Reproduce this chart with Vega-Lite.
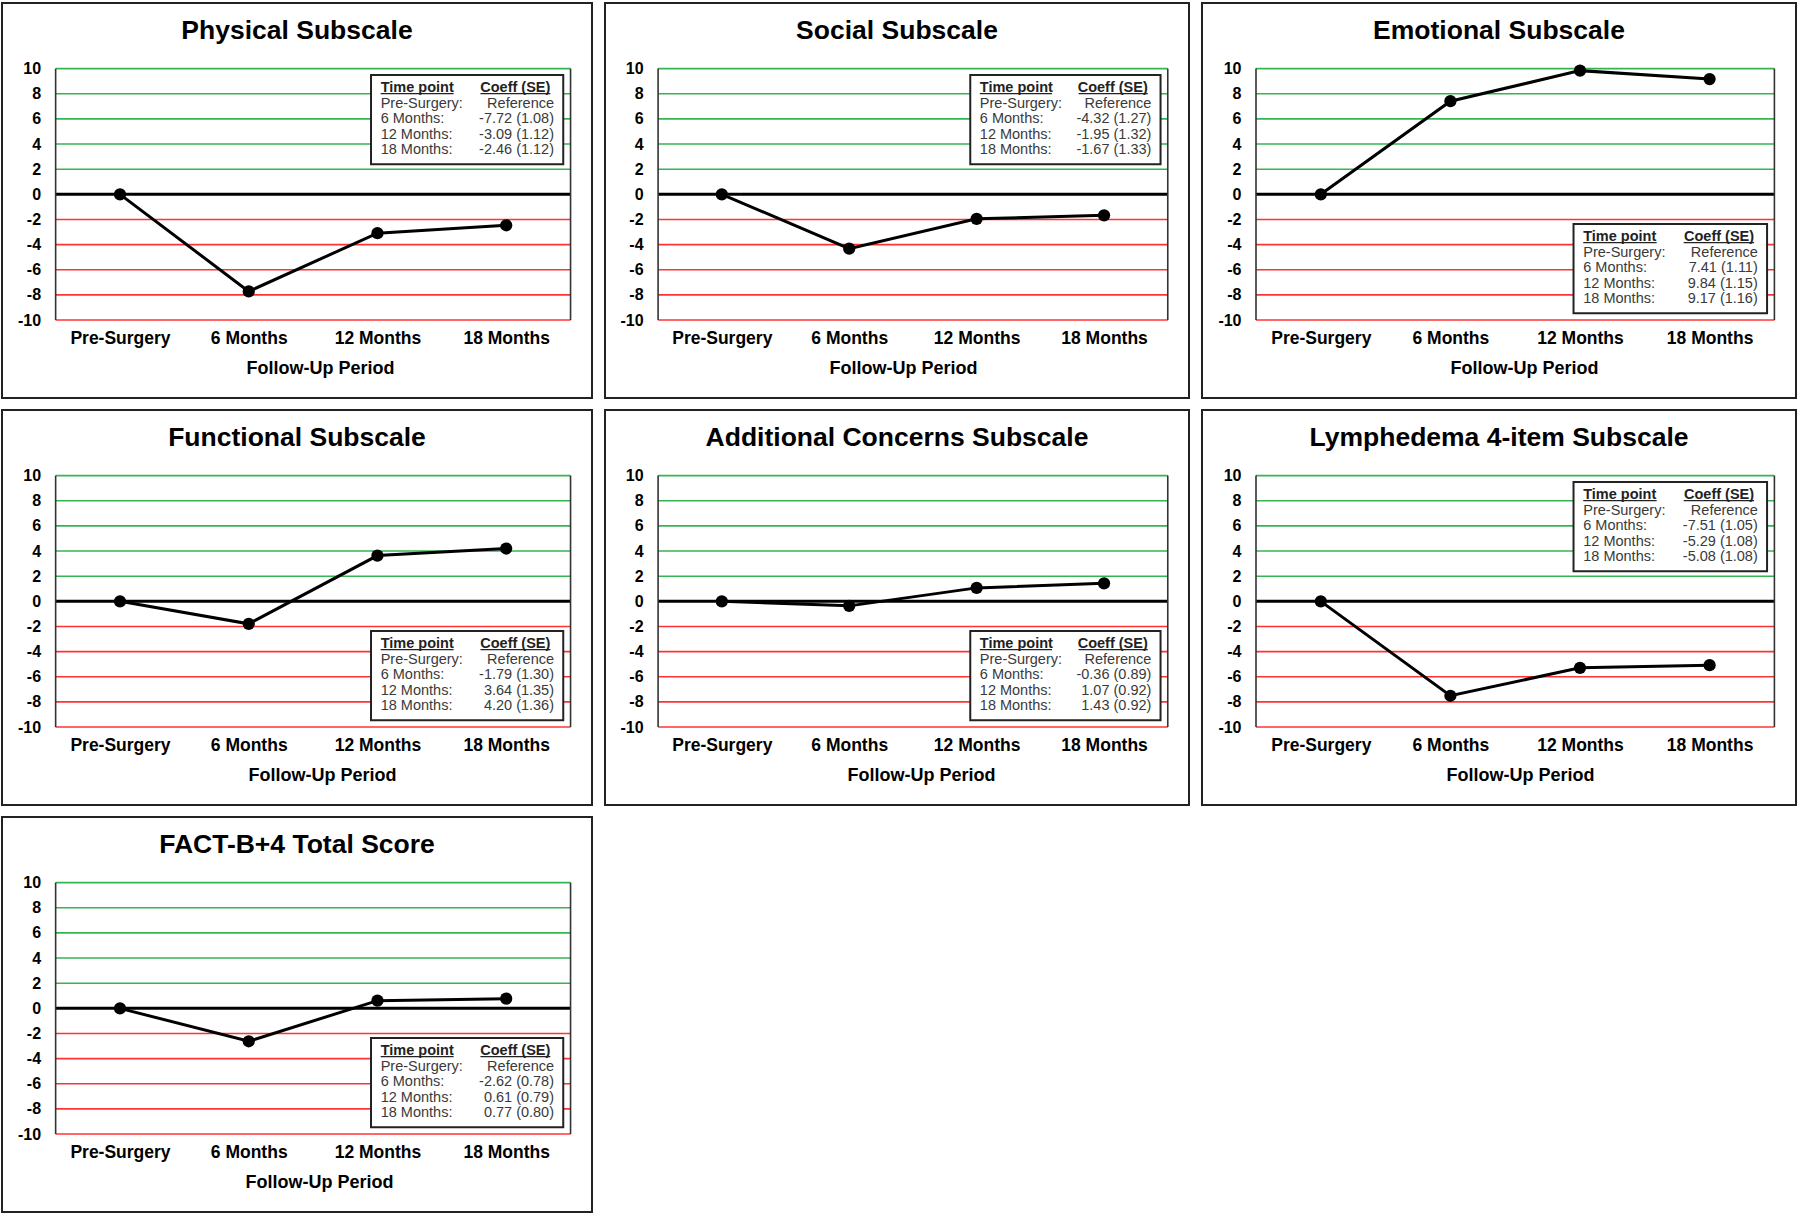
{
  "$schema": "https://vega.github.io/schema/vega-lite/v6.json",
  "padding": {"left": 1, "top": 2, "right": 0, "bottom": 0},
  "background": "#ffffff",
  "config": {
    "view": {"stroke": "#222222", "strokeWidth": 2},
    "font": "Liberation Sans",
    "axis": {"labelFont": "Liberation Sans", "titleFont": "Liberation Sans", "labelColor": "#000000", "titleColor": "#000000", "labelFlush": false, "labelOverlap": false, "labelBound": false, "domain": false, "ticks": false, "grid": false},
    "axisY": {"labelOverlap": false, "tickCount": 30, "labelExpr": "'' + datum.value"},
    "axisX": {"labelOverlap": false, "tickCount": 30},
    "title": {"font": "Liberation Sans", "fontSize": 26.5, "fontWeight": "bold", "color": "#000000", "frame": "group", "anchor": "middle", "offset": -41, "baseline": "alphabetic"}
  },
  "datasets": {
    "scores": [
      {"panel": "Physical Subscale", "month": 0, "coef": 0},
      {"panel": "Physical Subscale", "month": 6, "coef": -7.72},
      {"panel": "Physical Subscale", "month": 12, "coef": -3.09},
      {"panel": "Physical Subscale", "month": 18, "coef": -2.46},
      {"panel": "Social Subscale", "month": 0, "coef": 0},
      {"panel": "Social Subscale", "month": 6, "coef": -4.32},
      {"panel": "Social Subscale", "month": 12, "coef": -1.95},
      {"panel": "Social Subscale", "month": 18, "coef": -1.67},
      {"panel": "Emotional Subscale", "month": 0, "coef": 0},
      {"panel": "Emotional Subscale", "month": 6, "coef": 7.41},
      {"panel": "Emotional Subscale", "month": 12, "coef": 9.84},
      {"panel": "Emotional Subscale", "month": 18, "coef": 9.17},
      {"panel": "Functional Subscale", "month": 0, "coef": 0},
      {"panel": "Functional Subscale", "month": 6, "coef": -1.79},
      {"panel": "Functional Subscale", "month": 12, "coef": 3.64},
      {"panel": "Functional Subscale", "month": 18, "coef": 4.20},
      {"panel": "Additional Concerns Subscale", "month": 0, "coef": 0},
      {"panel": "Additional Concerns Subscale", "month": 6, "coef": -0.36},
      {"panel": "Additional Concerns Subscale", "month": 12, "coef": 1.07},
      {"panel": "Additional Concerns Subscale", "month": 18, "coef": 1.43},
      {"panel": "Lymphedema 4-item Subscale", "month": 0, "coef": 0},
      {"panel": "Lymphedema 4-item Subscale", "month": 6, "coef": -7.51},
      {"panel": "Lymphedema 4-item Subscale", "month": 12, "coef": -5.29},
      {"panel": "Lymphedema 4-item Subscale", "month": 18, "coef": -5.08},
      {"panel": "FACT-B+4 Total Score", "month": 0, "coef": 0},
      {"panel": "FACT-B+4 Total Score", "month": 6, "coef": -2.62},
      {"panel": "FACT-B+4 Total Score", "month": 12, "coef": 0.61},
      {"panel": "FACT-B+4 Total Score", "month": 18, "coef": 0.77}
    ],
    "tables": [
      {"panel": "Physical Subscale", "times": "Pre-Surgery:\n6 Months:\n12 Months:\n18 Months:", "coefs": "Reference\n-7.72 (1.08)\n-3.09 (1.12)\n-2.46 (1.12)"},
      {"panel": "Social Subscale", "times": "Pre-Surgery:\n6 Months:\n12 Months:\n18 Months:", "coefs": "Reference\n-4.32 (1.27)\n-1.95 (1.32)\n-1.67 (1.33)"},
      {"panel": "Emotional Subscale", "times": "Pre-Surgery:\n6 Months:\n12 Months:\n18 Months:", "coefs": "Reference\n7.41 (1.11)\n9.84 (1.15)\n9.17 (1.16)"},
      {"panel": "Functional Subscale", "times": "Pre-Surgery:\n6 Months:\n12 Months:\n18 Months:", "coefs": "Reference\n-1.79 (1.30)\n3.64 (1.35)\n4.20 (1.36)"},
      {"panel": "Additional Concerns Subscale", "times": "Pre-Surgery:\n6 Months:\n12 Months:\n18 Months:", "coefs": "Reference\n-0.36 (0.89)\n1.07 (0.92)\n1.43 (0.92)"},
      {"panel": "Lymphedema 4-item Subscale", "times": "Pre-Surgery:\n6 Months:\n12 Months:\n18 Months:", "coefs": "Reference\n-7.51 (1.05)\n-5.29 (1.08)\n-5.08 (1.08)"},
      {"panel": "FACT-B+4 Total Score", "times": "Pre-Surgery:\n6 Months:\n12 Months:\n18 Months:", "coefs": "Reference\n-2.62 (0.78)\n0.61 (0.79)\n0.77 (0.80)"}
    ],
    "grid": [
      {"level": -10}, {"level": -8}, {"level": -6}, {"level": -4}, {"level": -2},
      {"level": 2}, {"level": 4}, {"level": 6}, {"level": 8}, {"level": 10}
    ]
  },
  "vconcat": [
    {
      "hconcat": [
        {
          "width": 590, "height": 395,
          "title": {"text": "Physical Subscale"},
          "data": {"name": "tables"},
          "transform": [{"filter": "datum.panel == 'Physical Subscale'"}],
          "layer": [
            {"data": {"name": "grid"}, "mark": {"type": "rule", "strokeWidth": 1.6}, "encoding": {"y": {"field": "level", "type": "quantitative"}, "x": {"datum": -3}, "x2": {"datum": 21}, "color": {"condition": {"test": "datum.level > 0", "value": "#35b552"}, "value": "#ff3333"}}},
            {"mark": {"type": "rule", "strokeWidth": 3, "color": "#000000"}, "encoding": {"y": {"datum": 0}, "x": {"datum": -3}, "x2": {"datum": 21}}},
            {"mark": {"type": "rule", "strokeWidth": 1.6, "color": "#333333"}, "encoding": {"x": {"datum": -3}, "y": {"datum": -10}, "y2": {"datum": 10}}},
            {"mark": {"type": "rule", "strokeWidth": 1.6, "color": "#333333"}, "encoding": {"x": {"datum": 21}, "y": {"datum": -10}, "y2": {"datum": 10}}},
            {"data": {"name": "scores"}, "transform": [{"filter": "datum.panel == 'Physical Subscale'"}], "mark": {"type": "line", "color": "#000000", "strokeWidth": 3},
              "encoding": {
                "x": {"field": "month", "type": "quantitative", "scale": {"domain": [-5.5, 22], "nice": false, "zero": false}, "axis": {"values": [0, 6, 12, 18], "tickCount": 30, "labelExpr": "datum.value == 0 ? 'Pre-Surgery' : datum.value + ' Months'", "orient": "bottom", "offset": -77.9, "labelPadding": 9.5, "labelOverlap": false, "labelFontSize": 17.5, "labelFontWeight": "bold", "labelAngle": 0, "title": "Follow-Up Period", "titleFontSize": 18, "titleFontWeight": "bold", "titlePadding": 12, "titleX": 318}},
                "y": {"field": "coef", "type": "quantitative", "scale": {"domain": [-16.2, 15.22], "nice": false, "zero": false}, "axis": {"values": [-10, -8, -6, -4, -2, 0, 2, 4, 6, 8, 10], "tickCount": 30, "labelExpr": "'' + datum.value", "orient": "left", "offset": -53.6, "labelPadding": 15, "labelOverlap": false, "labelFontSize": 16, "labelFontWeight": "bold", "title": null}}
              }},
            {"data": {"name": "scores"}, "transform": [{"filter": "datum.panel == 'Physical Subscale'"}], "mark": {"type": "circle", "size": 150, "color": "#000000", "opacity": 1}, "encoding": {"x": {"field": "month", "type": "quantitative"}, "y": {"field": "coef", "type": "quantitative"}}},
            {"mark": {"type": "rect", "fill": "#ffffff", "stroke": "#222222", "strokeWidth": 2}, "encoding": {"x": {"datum": 11.7}, "x2": {"datum": 20.66}, "y": {"datum": 9.5}, "y2": {"datum": 2.4}}},
            {"mark": {"type": "text", "fontSize": 14.5, "fontWeight": "bold", "align": "left", "baseline": "alphabetic", "color": "#222222"}, "encoding": {"text": {"value": "Time point"}, "x": {"datum": 12.15}, "y": {"datum": 8.17}}},
            {"mark": {"type": "text", "fontSize": 14.5, "fontWeight": "bold", "align": "right", "baseline": "alphabetic", "color": "#222222"}, "encoding": {"text": {"value": "Coeff (SE)"}, "x": {"datum": 20.06}, "y": {"datum": 8.17}}},
            {"mark": {"type": "rule", "strokeWidth": 1.2, "color": "#222222"}, "encoding": {"x": {"datum": 12.15}, "x2": {"datum": 15.55}, "y": {"datum": 8.01}}},
            {"mark": {"type": "rule", "strokeWidth": 1.2, "color": "#222222"}, "encoding": {"x": {"datum": 16.8}, "x2": {"datum": 20.06}, "y": {"datum": 8.01}}},
            {"mark": {"type": "text", "fontSize": 14.5, "align": "left", "baseline": "alphabetic", "lineBreak": "\n", "lineHeight": 15.5, "color": "#3a3a3a"}, "encoding": {"text": {"field": "times"}, "x": {"datum": 12.15}, "y": {"datum": 6.88}}},
            {"mark": {"type": "text", "fontSize": 14.5, "align": "right", "baseline": "alphabetic", "lineBreak": "\n", "lineHeight": 15.5, "color": "#3a3a3a"}, "encoding": {"text": {"field": "coefs"}, "x": {"datum": 20.23}, "y": {"datum": 6.88}}}
          ]
        },
        {
          "width": 584, "height": 395,
          "title": {"text": "Social Subscale"},
          "data": {"name": "tables"},
          "transform": [{"filter": "datum.panel == 'Social Subscale'"}],
          "layer": [
            {"data": {"name": "grid"}, "mark": {"type": "rule", "strokeWidth": 1.6}, "encoding": {"y": {"field": "level", "type": "quantitative"}, "x": {"datum": -3}, "x2": {"datum": 21}, "color": {"condition": {"test": "datum.level > 0", "value": "#35b552"}, "value": "#ff3333"}}},
            {"mark": {"type": "rule", "strokeWidth": 3, "color": "#000000"}, "encoding": {"y": {"datum": 0}, "x": {"datum": -3}, "x2": {"datum": 21}}},
            {"mark": {"type": "rule", "strokeWidth": 1.6, "color": "#333333"}, "encoding": {"x": {"datum": -3}, "y": {"datum": -10}, "y2": {"datum": 10}}},
            {"mark": {"type": "rule", "strokeWidth": 1.6, "color": "#333333"}, "encoding": {"x": {"datum": 21}, "y": {"datum": -10}, "y2": {"datum": 10}}},
            {"data": {"name": "scores"}, "transform": [{"filter": "datum.panel == 'Social Subscale'"}], "mark": {"type": "line", "color": "#000000", "strokeWidth": 3},
              "encoding": {
                "x": {"field": "month", "type": "quantitative", "scale": {"domain": [-5.5, 22], "nice": false, "zero": false}, "axis": {"values": [0, 6, 12, 18], "tickCount": 30, "labelExpr": "datum.value == 0 ? 'Pre-Surgery' : datum.value + ' Months'", "orient": "bottom", "offset": -77.9, "labelPadding": 9.5, "labelOverlap": false, "labelFontSize": 17.5, "labelFontWeight": "bold", "labelAngle": 0, "title": "Follow-Up Period", "titleFontSize": 18, "titleFontWeight": "bold", "titlePadding": 12, "titleX": 298}},
                "y": {"field": "coef", "type": "quantitative", "scale": {"domain": [-16.2, 15.22], "nice": false, "zero": false}, "axis": {"values": [-10, -8, -6, -4, -2, 0, 2, 4, 6, 8, 10], "tickCount": 30, "labelExpr": "'' + datum.value", "orient": "left", "offset": -53.1, "labelPadding": 15, "labelOverlap": false, "labelFontSize": 16, "labelFontWeight": "bold", "title": null}}
              }},
            {"data": {"name": "scores"}, "transform": [{"filter": "datum.panel == 'Social Subscale'"}], "mark": {"type": "circle", "size": 150, "color": "#000000", "opacity": 1}, "encoding": {"x": {"field": "month", "type": "quantitative"}, "y": {"field": "coef", "type": "quantitative"}}},
            {"mark": {"type": "rect", "fill": "#ffffff", "stroke": "#222222", "strokeWidth": 2}, "encoding": {"x": {"datum": 11.7}, "x2": {"datum": 20.66}, "y": {"datum": 9.5}, "y2": {"datum": 2.4}}},
            {"mark": {"type": "text", "fontSize": 14.5, "fontWeight": "bold", "align": "left", "baseline": "alphabetic", "color": "#222222"}, "encoding": {"text": {"value": "Time point"}, "x": {"datum": 12.15}, "y": {"datum": 8.17}}},
            {"mark": {"type": "text", "fontSize": 14.5, "fontWeight": "bold", "align": "right", "baseline": "alphabetic", "color": "#222222"}, "encoding": {"text": {"value": "Coeff (SE)"}, "x": {"datum": 20.06}, "y": {"datum": 8.17}}},
            {"mark": {"type": "rule", "strokeWidth": 1.2, "color": "#222222"}, "encoding": {"x": {"datum": 12.15}, "x2": {"datum": 15.55}, "y": {"datum": 8.01}}},
            {"mark": {"type": "rule", "strokeWidth": 1.2, "color": "#222222"}, "encoding": {"x": {"datum": 16.8}, "x2": {"datum": 20.06}, "y": {"datum": 8.01}}},
            {"mark": {"type": "text", "fontSize": 14.5, "align": "left", "baseline": "alphabetic", "lineBreak": "\n", "lineHeight": 15.5, "color": "#3a3a3a"}, "encoding": {"text": {"field": "times"}, "x": {"datum": 12.15}, "y": {"datum": 6.88}}},
            {"mark": {"type": "text", "fontSize": 14.5, "align": "right", "baseline": "alphabetic", "lineBreak": "\n", "lineHeight": 15.5, "color": "#3a3a3a"}, "encoding": {"text": {"field": "coefs"}, "x": {"datum": 20.23}, "y": {"datum": 6.88}}}
          ]
        },
        {
          "width": 594, "height": 395,
          "title": {"text": "Emotional Subscale"},
          "data": {"name": "tables"},
          "transform": [{"filter": "datum.panel == 'Emotional Subscale'"}],
          "layer": [
            {"data": {"name": "grid"}, "mark": {"type": "rule", "strokeWidth": 1.6}, "encoding": {"y": {"field": "level", "type": "quantitative"}, "x": {"datum": -3}, "x2": {"datum": 21}, "color": {"condition": {"test": "datum.level > 0", "value": "#35b552"}, "value": "#ff3333"}}},
            {"mark": {"type": "rule", "strokeWidth": 3, "color": "#000000"}, "encoding": {"y": {"datum": 0}, "x": {"datum": -3}, "x2": {"datum": 21}}},
            {"mark": {"type": "rule", "strokeWidth": 1.6, "color": "#333333"}, "encoding": {"x": {"datum": -3}, "y": {"datum": -10}, "y2": {"datum": 10}}},
            {"mark": {"type": "rule", "strokeWidth": 1.6, "color": "#333333"}, "encoding": {"x": {"datum": 21}, "y": {"datum": -10}, "y2": {"datum": 10}}},
            {"data": {"name": "scores"}, "transform": [{"filter": "datum.panel == 'Emotional Subscale'"}], "mark": {"type": "line", "color": "#000000", "strokeWidth": 3},
              "encoding": {
                "x": {"field": "month", "type": "quantitative", "scale": {"domain": [-5.5, 22], "nice": false, "zero": false}, "axis": {"values": [0, 6, 12, 18], "tickCount": 30, "labelExpr": "datum.value == 0 ? 'Pre-Surgery' : datum.value + ' Months'", "orient": "bottom", "offset": -77.9, "labelPadding": 9.5, "labelOverlap": false, "labelFontSize": 17.5, "labelFontWeight": "bold", "labelAngle": 0, "title": "Follow-Up Period", "titleFontSize": 18, "titleFontWeight": "bold", "titlePadding": 12, "titleX": 322}},
                "y": {"field": "coef", "type": "quantitative", "scale": {"domain": [-16.2, 15.22], "nice": false, "zero": false}, "axis": {"values": [-10, -8, -6, -4, -2, 0, 2, 4, 6, 8, 10], "tickCount": 30, "labelExpr": "'' + datum.value", "orient": "left", "offset": -54, "labelPadding": 15, "labelOverlap": false, "labelFontSize": 16, "labelFontWeight": "bold", "title": null}}
              }},
            {"data": {"name": "scores"}, "transform": [{"filter": "datum.panel == 'Emotional Subscale'"}], "mark": {"type": "circle", "size": 150, "color": "#000000", "opacity": 1}, "encoding": {"x": {"field": "month", "type": "quantitative"}, "y": {"field": "coef", "type": "quantitative"}}},
            {"mark": {"type": "rect", "fill": "#ffffff", "stroke": "#222222", "strokeWidth": 2}, "encoding": {"x": {"datum": 11.7}, "x2": {"datum": 20.66}, "y": {"datum": -2.35}, "y2": {"datum": -9.45}}},
            {"mark": {"type": "text", "fontSize": 14.5, "fontWeight": "bold", "align": "left", "baseline": "alphabetic", "color": "#222222"}, "encoding": {"text": {"value": "Time point"}, "x": {"datum": 12.15}, "y": {"datum": -3.68}}},
            {"mark": {"type": "text", "fontSize": 14.5, "fontWeight": "bold", "align": "right", "baseline": "alphabetic", "color": "#222222"}, "encoding": {"text": {"value": "Coeff (SE)"}, "x": {"datum": 20.06}, "y": {"datum": -3.68}}},
            {"mark": {"type": "rule", "strokeWidth": 1.2, "color": "#222222"}, "encoding": {"x": {"datum": 12.15}, "x2": {"datum": 15.55}, "y": {"datum": -3.84}}},
            {"mark": {"type": "rule", "strokeWidth": 1.2, "color": "#222222"}, "encoding": {"x": {"datum": 16.8}, "x2": {"datum": 20.06}, "y": {"datum": -3.84}}},
            {"mark": {"type": "text", "fontSize": 14.5, "align": "left", "baseline": "alphabetic", "lineBreak": "\n", "lineHeight": 15.5, "color": "#3a3a3a"}, "encoding": {"text": {"field": "times"}, "x": {"datum": 12.15}, "y": {"datum": -4.97}}},
            {"mark": {"type": "text", "fontSize": 14.5, "align": "right", "baseline": "alphabetic", "lineBreak": "\n", "lineHeight": 15.5, "color": "#3a3a3a"}, "encoding": {"text": {"field": "coefs"}, "x": {"datum": 20.23}, "y": {"datum": -4.97}}}
          ]
        }
      ],
      "spacing": 11
    },
    {
      "hconcat": [
        {
          "width": 590, "height": 395,
          "title": {"text": "Functional Subscale"},
          "data": {"name": "tables"},
          "transform": [{"filter": "datum.panel == 'Functional Subscale'"}],
          "layer": [
            {"data": {"name": "grid"}, "mark": {"type": "rule", "strokeWidth": 1.6}, "encoding": {"y": {"field": "level", "type": "quantitative"}, "x": {"datum": -3}, "x2": {"datum": 21}, "color": {"condition": {"test": "datum.level > 0", "value": "#35b552"}, "value": "#ff3333"}}},
            {"mark": {"type": "rule", "strokeWidth": 3, "color": "#000000"}, "encoding": {"y": {"datum": 0}, "x": {"datum": -3}, "x2": {"datum": 21}}},
            {"mark": {"type": "rule", "strokeWidth": 1.6, "color": "#333333"}, "encoding": {"x": {"datum": -3}, "y": {"datum": -10}, "y2": {"datum": 10}}},
            {"mark": {"type": "rule", "strokeWidth": 1.6, "color": "#333333"}, "encoding": {"x": {"datum": 21}, "y": {"datum": -10}, "y2": {"datum": 10}}},
            {"data": {"name": "scores"}, "transform": [{"filter": "datum.panel == 'Functional Subscale'"}], "mark": {"type": "line", "color": "#000000", "strokeWidth": 3},
              "encoding": {
                "x": {"field": "month", "type": "quantitative", "scale": {"domain": [-5.5, 22], "nice": false, "zero": false}, "axis": {"values": [0, 6, 12, 18], "tickCount": 30, "labelExpr": "datum.value == 0 ? 'Pre-Surgery' : datum.value + ' Months'", "orient": "bottom", "offset": -77.9, "labelPadding": 9.5, "labelOverlap": false, "labelFontSize": 17.5, "labelFontWeight": "bold", "labelAngle": 0, "title": "Follow-Up Period", "titleFontSize": 18, "titleFontWeight": "bold", "titlePadding": 12, "titleX": 320}},
                "y": {"field": "coef", "type": "quantitative", "scale": {"domain": [-16.2, 15.22], "nice": false, "zero": false}, "axis": {"values": [-10, -8, -6, -4, -2, 0, 2, 4, 6, 8, 10], "tickCount": 30, "labelExpr": "'' + datum.value", "orient": "left", "offset": -53.6, "labelPadding": 15, "labelOverlap": false, "labelFontSize": 16, "labelFontWeight": "bold", "title": null}}
              }},
            {"data": {"name": "scores"}, "transform": [{"filter": "datum.panel == 'Functional Subscale'"}], "mark": {"type": "circle", "size": 150, "color": "#000000", "opacity": 1}, "encoding": {"x": {"field": "month", "type": "quantitative"}, "y": {"field": "coef", "type": "quantitative"}}},
            {"mark": {"type": "rect", "fill": "#ffffff", "stroke": "#222222", "strokeWidth": 2}, "encoding": {"x": {"datum": 11.7}, "x2": {"datum": 20.66}, "y": {"datum": -2.35}, "y2": {"datum": -9.45}}},
            {"mark": {"type": "text", "fontSize": 14.5, "fontWeight": "bold", "align": "left", "baseline": "alphabetic", "color": "#222222"}, "encoding": {"text": {"value": "Time point"}, "x": {"datum": 12.15}, "y": {"datum": -3.68}}},
            {"mark": {"type": "text", "fontSize": 14.5, "fontWeight": "bold", "align": "right", "baseline": "alphabetic", "color": "#222222"}, "encoding": {"text": {"value": "Coeff (SE)"}, "x": {"datum": 20.06}, "y": {"datum": -3.68}}},
            {"mark": {"type": "rule", "strokeWidth": 1.2, "color": "#222222"}, "encoding": {"x": {"datum": 12.15}, "x2": {"datum": 15.55}, "y": {"datum": -3.84}}},
            {"mark": {"type": "rule", "strokeWidth": 1.2, "color": "#222222"}, "encoding": {"x": {"datum": 16.8}, "x2": {"datum": 20.06}, "y": {"datum": -3.84}}},
            {"mark": {"type": "text", "fontSize": 14.5, "align": "left", "baseline": "alphabetic", "lineBreak": "\n", "lineHeight": 15.5, "color": "#3a3a3a"}, "encoding": {"text": {"field": "times"}, "x": {"datum": 12.15}, "y": {"datum": -4.97}}},
            {"mark": {"type": "text", "fontSize": 14.5, "align": "right", "baseline": "alphabetic", "lineBreak": "\n", "lineHeight": 15.5, "color": "#3a3a3a"}, "encoding": {"text": {"field": "coefs"}, "x": {"datum": 20.23}, "y": {"datum": -4.97}}}
          ]
        },
        {
          "width": 584, "height": 395,
          "title": {"text": "Additional Concerns Subscale"},
          "data": {"name": "tables"},
          "transform": [{"filter": "datum.panel == 'Additional Concerns Subscale'"}],
          "layer": [
            {"data": {"name": "grid"}, "mark": {"type": "rule", "strokeWidth": 1.6}, "encoding": {"y": {"field": "level", "type": "quantitative"}, "x": {"datum": -3}, "x2": {"datum": 21}, "color": {"condition": {"test": "datum.level > 0", "value": "#35b552"}, "value": "#ff3333"}}},
            {"mark": {"type": "rule", "strokeWidth": 3, "color": "#000000"}, "encoding": {"y": {"datum": 0}, "x": {"datum": -3}, "x2": {"datum": 21}}},
            {"mark": {"type": "rule", "strokeWidth": 1.6, "color": "#333333"}, "encoding": {"x": {"datum": -3}, "y": {"datum": -10}, "y2": {"datum": 10}}},
            {"mark": {"type": "rule", "strokeWidth": 1.6, "color": "#333333"}, "encoding": {"x": {"datum": 21}, "y": {"datum": -10}, "y2": {"datum": 10}}},
            {"data": {"name": "scores"}, "transform": [{"filter": "datum.panel == 'Additional Concerns Subscale'"}], "mark": {"type": "line", "color": "#000000", "strokeWidth": 3},
              "encoding": {
                "x": {"field": "month", "type": "quantitative", "scale": {"domain": [-5.5, 22], "nice": false, "zero": false}, "axis": {"values": [0, 6, 12, 18], "tickCount": 30, "labelExpr": "datum.value == 0 ? 'Pre-Surgery' : datum.value + ' Months'", "orient": "bottom", "offset": -77.9, "labelPadding": 9.5, "labelOverlap": false, "labelFontSize": 17.5, "labelFontWeight": "bold", "labelAngle": 0, "title": "Follow-Up Period", "titleFontSize": 18, "titleFontWeight": "bold", "titlePadding": 12, "titleX": 316}},
                "y": {"field": "coef", "type": "quantitative", "scale": {"domain": [-16.2, 15.22], "nice": false, "zero": false}, "axis": {"values": [-10, -8, -6, -4, -2, 0, 2, 4, 6, 8, 10], "tickCount": 30, "labelExpr": "'' + datum.value", "orient": "left", "offset": -53.1, "labelPadding": 15, "labelOverlap": false, "labelFontSize": 16, "labelFontWeight": "bold", "title": null}}
              }},
            {"data": {"name": "scores"}, "transform": [{"filter": "datum.panel == 'Additional Concerns Subscale'"}], "mark": {"type": "circle", "size": 150, "color": "#000000", "opacity": 1}, "encoding": {"x": {"field": "month", "type": "quantitative"}, "y": {"field": "coef", "type": "quantitative"}}},
            {"mark": {"type": "rect", "fill": "#ffffff", "stroke": "#222222", "strokeWidth": 2}, "encoding": {"x": {"datum": 11.7}, "x2": {"datum": 20.66}, "y": {"datum": -2.35}, "y2": {"datum": -9.45}}},
            {"mark": {"type": "text", "fontSize": 14.5, "fontWeight": "bold", "align": "left", "baseline": "alphabetic", "color": "#222222"}, "encoding": {"text": {"value": "Time point"}, "x": {"datum": 12.15}, "y": {"datum": -3.68}}},
            {"mark": {"type": "text", "fontSize": 14.5, "fontWeight": "bold", "align": "right", "baseline": "alphabetic", "color": "#222222"}, "encoding": {"text": {"value": "Coeff (SE)"}, "x": {"datum": 20.06}, "y": {"datum": -3.68}}},
            {"mark": {"type": "rule", "strokeWidth": 1.2, "color": "#222222"}, "encoding": {"x": {"datum": 12.15}, "x2": {"datum": 15.55}, "y": {"datum": -3.84}}},
            {"mark": {"type": "rule", "strokeWidth": 1.2, "color": "#222222"}, "encoding": {"x": {"datum": 16.8}, "x2": {"datum": 20.06}, "y": {"datum": -3.84}}},
            {"mark": {"type": "text", "fontSize": 14.5, "align": "left", "baseline": "alphabetic", "lineBreak": "\n", "lineHeight": 15.5, "color": "#3a3a3a"}, "encoding": {"text": {"field": "times"}, "x": {"datum": 12.15}, "y": {"datum": -4.97}}},
            {"mark": {"type": "text", "fontSize": 14.5, "align": "right", "baseline": "alphabetic", "lineBreak": "\n", "lineHeight": 15.5, "color": "#3a3a3a"}, "encoding": {"text": {"field": "coefs"}, "x": {"datum": 20.23}, "y": {"datum": -4.97}}}
          ]
        },
        {
          "width": 594, "height": 395,
          "title": {"text": "Lymphedema 4-item Subscale"},
          "data": {"name": "tables"},
          "transform": [{"filter": "datum.panel == 'Lymphedema 4-item Subscale'"}],
          "layer": [
            {"data": {"name": "grid"}, "mark": {"type": "rule", "strokeWidth": 1.6}, "encoding": {"y": {"field": "level", "type": "quantitative"}, "x": {"datum": -3}, "x2": {"datum": 21}, "color": {"condition": {"test": "datum.level > 0", "value": "#35b552"}, "value": "#ff3333"}}},
            {"mark": {"type": "rule", "strokeWidth": 3, "color": "#000000"}, "encoding": {"y": {"datum": 0}, "x": {"datum": -3}, "x2": {"datum": 21}}},
            {"mark": {"type": "rule", "strokeWidth": 1.6, "color": "#333333"}, "encoding": {"x": {"datum": -3}, "y": {"datum": -10}, "y2": {"datum": 10}}},
            {"mark": {"type": "rule", "strokeWidth": 1.6, "color": "#333333"}, "encoding": {"x": {"datum": 21}, "y": {"datum": -10}, "y2": {"datum": 10}}},
            {"data": {"name": "scores"}, "transform": [{"filter": "datum.panel == 'Lymphedema 4-item Subscale'"}], "mark": {"type": "line", "color": "#000000", "strokeWidth": 3},
              "encoding": {
                "x": {"field": "month", "type": "quantitative", "scale": {"domain": [-5.5, 22], "nice": false, "zero": false}, "axis": {"values": [0, 6, 12, 18], "tickCount": 30, "labelExpr": "datum.value == 0 ? 'Pre-Surgery' : datum.value + ' Months'", "orient": "bottom", "offset": -77.9, "labelPadding": 9.5, "labelOverlap": false, "labelFontSize": 17.5, "labelFontWeight": "bold", "labelAngle": 0, "title": "Follow-Up Period", "titleFontSize": 18, "titleFontWeight": "bold", "titlePadding": 12, "titleX": 318}},
                "y": {"field": "coef", "type": "quantitative", "scale": {"domain": [-16.2, 15.22], "nice": false, "zero": false}, "axis": {"values": [-10, -8, -6, -4, -2, 0, 2, 4, 6, 8, 10], "tickCount": 30, "labelExpr": "'' + datum.value", "orient": "left", "offset": -54, "labelPadding": 15, "labelOverlap": false, "labelFontSize": 16, "labelFontWeight": "bold", "title": null}}
              }},
            {"data": {"name": "scores"}, "transform": [{"filter": "datum.panel == 'Lymphedema 4-item Subscale'"}], "mark": {"type": "circle", "size": 150, "color": "#000000", "opacity": 1}, "encoding": {"x": {"field": "month", "type": "quantitative"}, "y": {"field": "coef", "type": "quantitative"}}},
            {"mark": {"type": "rect", "fill": "#ffffff", "stroke": "#222222", "strokeWidth": 2}, "encoding": {"x": {"datum": 11.7}, "x2": {"datum": 20.66}, "y": {"datum": 9.5}, "y2": {"datum": 2.4}}},
            {"mark": {"type": "text", "fontSize": 14.5, "fontWeight": "bold", "align": "left", "baseline": "alphabetic", "color": "#222222"}, "encoding": {"text": {"value": "Time point"}, "x": {"datum": 12.15}, "y": {"datum": 8.17}}},
            {"mark": {"type": "text", "fontSize": 14.5, "fontWeight": "bold", "align": "right", "baseline": "alphabetic", "color": "#222222"}, "encoding": {"text": {"value": "Coeff (SE)"}, "x": {"datum": 20.06}, "y": {"datum": 8.17}}},
            {"mark": {"type": "rule", "strokeWidth": 1.2, "color": "#222222"}, "encoding": {"x": {"datum": 12.15}, "x2": {"datum": 15.55}, "y": {"datum": 8.01}}},
            {"mark": {"type": "rule", "strokeWidth": 1.2, "color": "#222222"}, "encoding": {"x": {"datum": 16.8}, "x2": {"datum": 20.06}, "y": {"datum": 8.01}}},
            {"mark": {"type": "text", "fontSize": 14.5, "align": "left", "baseline": "alphabetic", "lineBreak": "\n", "lineHeight": 15.5, "color": "#3a3a3a"}, "encoding": {"text": {"field": "times"}, "x": {"datum": 12.15}, "y": {"datum": 6.88}}},
            {"mark": {"type": "text", "fontSize": 14.5, "align": "right", "baseline": "alphabetic", "lineBreak": "\n", "lineHeight": 15.5, "color": "#3a3a3a"}, "encoding": {"text": {"field": "coefs"}, "x": {"datum": 20.23}, "y": {"datum": 6.88}}}
          ]
        }
      ],
      "spacing": 11
    },
    {
      "hconcat": [
        {
          "width": 590, "height": 395,
          "title": {"text": "FACT-B+4 Total Score"},
          "data": {"name": "tables"},
          "transform": [{"filter": "datum.panel == 'FACT-B+4 Total Score'"}],
          "layer": [
            {"data": {"name": "grid"}, "mark": {"type": "rule", "strokeWidth": 1.6}, "encoding": {"y": {"field": "level", "type": "quantitative"}, "x": {"datum": -3}, "x2": {"datum": 21}, "color": {"condition": {"test": "datum.level > 0", "value": "#35b552"}, "value": "#ff3333"}}},
            {"mark": {"type": "rule", "strokeWidth": 3, "color": "#000000"}, "encoding": {"y": {"datum": 0}, "x": {"datum": -3}, "x2": {"datum": 21}}},
            {"mark": {"type": "rule", "strokeWidth": 1.6, "color": "#333333"}, "encoding": {"x": {"datum": -3}, "y": {"datum": -10}, "y2": {"datum": 10}}},
            {"mark": {"type": "rule", "strokeWidth": 1.6, "color": "#333333"}, "encoding": {"x": {"datum": 21}, "y": {"datum": -10}, "y2": {"datum": 10}}},
            {"data": {"name": "scores"}, "transform": [{"filter": "datum.panel == 'FACT-B+4 Total Score'"}], "mark": {"type": "line", "color": "#000000", "strokeWidth": 3},
              "encoding": {
                "x": {"field": "month", "type": "quantitative", "scale": {"domain": [-5.5, 22], "nice": false, "zero": false}, "axis": {"values": [0, 6, 12, 18], "tickCount": 30, "labelExpr": "datum.value == 0 ? 'Pre-Surgery' : datum.value + ' Months'", "orient": "bottom", "offset": -77.9, "labelPadding": 9.5, "labelOverlap": false, "labelFontSize": 17.5, "labelFontWeight": "bold", "labelAngle": 0, "title": "Follow-Up Period", "titleFontSize": 18, "titleFontWeight": "bold", "titlePadding": 12, "titleX": 317}},
                "y": {"field": "coef", "type": "quantitative", "scale": {"domain": [-16.2, 15.22], "nice": false, "zero": false}, "axis": {"values": [-10, -8, -6, -4, -2, 0, 2, 4, 6, 8, 10], "tickCount": 30, "labelExpr": "'' + datum.value", "orient": "left", "offset": -53.6, "labelPadding": 15, "labelOverlap": false, "labelFontSize": 16, "labelFontWeight": "bold", "title": null}}
              }},
            {"data": {"name": "scores"}, "transform": [{"filter": "datum.panel == 'FACT-B+4 Total Score'"}], "mark": {"type": "circle", "size": 150, "color": "#000000", "opacity": 1}, "encoding": {"x": {"field": "month", "type": "quantitative"}, "y": {"field": "coef", "type": "quantitative"}}},
            {"mark": {"type": "rect", "fill": "#ffffff", "stroke": "#222222", "strokeWidth": 2}, "encoding": {"x": {"datum": 11.7}, "x2": {"datum": 20.66}, "y": {"datum": -2.35}, "y2": {"datum": -9.45}}},
            {"mark": {"type": "text", "fontSize": 14.5, "fontWeight": "bold", "align": "left", "baseline": "alphabetic", "color": "#222222"}, "encoding": {"text": {"value": "Time point"}, "x": {"datum": 12.15}, "y": {"datum": -3.68}}},
            {"mark": {"type": "text", "fontSize": 14.5, "fontWeight": "bold", "align": "right", "baseline": "alphabetic", "color": "#222222"}, "encoding": {"text": {"value": "Coeff (SE)"}, "x": {"datum": 20.06}, "y": {"datum": -3.68}}},
            {"mark": {"type": "rule", "strokeWidth": 1.2, "color": "#222222"}, "encoding": {"x": {"datum": 12.15}, "x2": {"datum": 15.55}, "y": {"datum": -3.84}}},
            {"mark": {"type": "rule", "strokeWidth": 1.2, "color": "#222222"}, "encoding": {"x": {"datum": 16.8}, "x2": {"datum": 20.06}, "y": {"datum": -3.84}}},
            {"mark": {"type": "text", "fontSize": 14.5, "align": "left", "baseline": "alphabetic", "lineBreak": "\n", "lineHeight": 15.5, "color": "#3a3a3a"}, "encoding": {"text": {"field": "times"}, "x": {"datum": 12.15}, "y": {"datum": -4.97}}},
            {"mark": {"type": "text", "fontSize": 14.5, "align": "right", "baseline": "alphabetic", "lineBreak": "\n", "lineHeight": 15.5, "color": "#3a3a3a"}, "encoding": {"text": {"field": "coefs"}, "x": {"datum": 20.23}, "y": {"datum": -4.97}}}
          ]
        }
      ]
    }
  ],
  "spacing": 10
}
